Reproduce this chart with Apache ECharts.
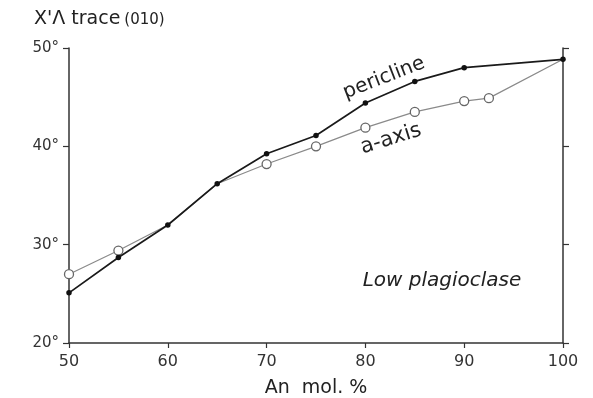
<!DOCTYPE html>
<html><head><meta charset="utf-8">
<script src="https://cdn.jsdelivr.net/npm/echarts@6/dist/echarts.min.js"></script>
<style>html,body{margin:0;padding:0;background:#fff}#c{width:593px;height:398px}</style>
</head><body><div id="c"></div>
<script>
// An mol. % and X'Λ trace(010) angles (degrees)
const periclineX = [50, 55, 60, 65, 70, 75, 80, 85, 90, 100];
const periclineY = [25.1, 28.7, 32.0, 36.2, 39.25, 41.1, 44.4, 46.6, 48.0, 48.85];
const aAxisX = [50, 55, 60, 65, 70, 75, 80, 85, 90, 92.5, 100];
const aAxisY = [27.0, 29.4, 32.0, 36.2, 38.2, 40.0, 41.9, 43.5, 44.6, 44.9, 48.85];
const aAxisMarked = [true, true, false, false, true, true, true, true, true, true, false];
const xTicks = [50, 60, 70, 80, 90, 100];
const yTicks = [20, 30, 40, 50];

const FONT = 'DejaVu Sans';
const chart = echarts.init(document.getElementById('c'), null, {renderer: 'canvas'});
const pericline = periclineX.map((x, i) => [x, periclineY[i]]);
const aAxis = aAxisX.map((x, i) => ({
  value: [x, aAxisY[i]],
  symbol: aAxisMarked[i] ? 'circle' : 'none'
}));

chart.setOption({
  animation: false,
  backgroundColor: '#fff',
  grid: {left: 69, right: 30, top: 48, bottom: 55, containLabel: false, outerBoundsMode: 'none'},
  title: {
    text: "{a|X'Λ trace}{b|(010)}",
    left: 29, top: 5,
    textStyle: {rich: {
      a: {fontFamily: FONT, fontSize: 19, fontWeight: 'normal', color: '#222'},
      b: {fontFamily: FONT, fontSize: 15, fontWeight: 'normal', color: '#222', padding: [2, 0, 0, 4]}
    }}
  },
  xAxis: {
    type: 'value', min: xTicks[0], max: xTicks[xTicks.length - 1], interval: 10,
    axisLine: {lineStyle: {color: '#333', width: 1.5}},
    axisTick: {show: true, length: 5, inside: false, lineStyle: {color: '#333', width: 1.2}},
    axisLabel: {fontFamily: FONT, fontSize: 16, color: '#333', margin: 11},
    splitLine: {show: false},
    name: 'An  mol. %', nameLocation: 'middle', nameGap: 36,
    nameTextStyle: {fontFamily: FONT, fontSize: 19, color: '#222'}
  },
  yAxis: [{
    type: 'value', min: yTicks[0], max: yTicks[yTicks.length - 1], interval: 10,
    axisLine: {show: true, lineStyle: {color: '#333', width: 1.5}},
    axisTick: {show: true, length: 6, lineStyle: {color: '#333', width: 1.2}},
    axisLabel: {fontFamily: FONT, fontSize: 15, color: '#333', margin: 10, formatter: '{value}°'},
    splitLine: {show: false}
  }, {
    type: 'value', position: 'right', min: yTicks[0], max: yTicks[yTicks.length - 1], interval: 10,
    axisLine: {show: true, lineStyle: {color: '#333', width: 1.5}},
    axisTick: {show: true, length: 6, lineStyle: {color: '#333', width: 1.2}},
    axisLabel: {show: false},
    splitLine: {show: false}
  }],
  series: [{
    name: 'a-axis', type: 'line', data: aAxis,
    symbol: 'circle', symbolSize: 9, showAllSymbol: true,
    lineStyle: {color: '#8a8a8a', width: 1.2},
    itemStyle: {color: '#fff', borderColor: '#666', borderWidth: 1.3},
    z: 2
  }, {
    name: 'pericline', type: 'line', data: pericline,
    symbol: 'circle', symbolSize: 5.5, showAllSymbol: true,
    lineStyle: {color: '#1a1a1a', width: 1.7},
    itemStyle: {color: '#111'},
    z: 3
  }],
  graphic: [
    {type: 'text', x: 384, y: 78, rotation: 0.37,
     style: {text: 'pericline', font: '20px "DejaVu Sans"', fill: '#222', align: 'center', verticalAlign: 'middle'}},
    {type: 'text', x: 391, y: 139, rotation: 0.3,
     style: {text: 'a-axis', font: '21px "DejaVu Sans"', fill: '#222', align: 'center', verticalAlign: 'middle'}},
    {type: 'text', x: 442, y: 281,
     style: {text: 'Low plagioclase', font: 'italic 20px "DejaVu Sans"', fill: '#222', align: 'center', verticalAlign: 'middle'}}
  ]
});
</script></body></html>
